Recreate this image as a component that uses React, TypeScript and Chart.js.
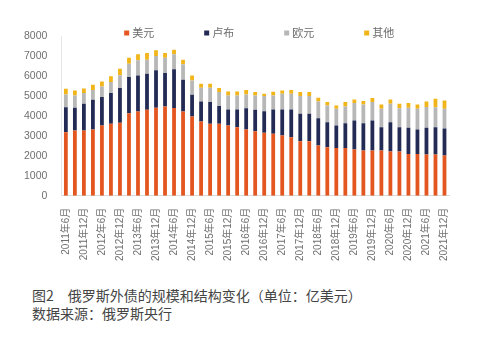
import React, { useEffect, useRef } from "react";
import { Chart, registerables } from "chart.js";

Chart.register(...registerables);

const categories = [
  "2011年6月", "2011年9月", "2011年12月",
  "2012年3月", "2012年6月", "2012年9月", "2012年12月",
  "2013年3月", "2013年6月", "2013年9月", "2013年12月",
  "2014年3月", "2014年6月", "2014年9月", "2014年12月",
  "2015年3月", "2015年6月", "2015年9月", "2015年12月",
  "2016年3月", "2016年6月", "2016年9月", "2016年12月",
  "2017年3月", "2017年6月", "2017年9月", "2017年12月",
  "2018年3月", "2018年6月", "2018年9月", "2018年12月",
  "2019年3月", "2019年6月", "2019年9月", "2019年12月",
  "2020年3月", "2020年6月", "2020年9月", "2020年12月",
  "2021年3月", "2021年6月", "2021年9月", "2021年12月",
];

const usd = [
  3180, 3260, 3260, 3310, 3510, 3600, 3650, 4130, 4220, 4300, 4400,
  4470, 4390, 4220, 3970, 3720, 3600, 3600, 3510, 3430, 3310, 3230,
  3150, 3100, 3010, 2930, 2730, 2730, 2510, 2430, 2390, 2390, 2310,
  2260, 2260, 2260, 2210, 2210, 2090, 2090, 2060, 2060, 2010,
];
const rub = [
  1250, 1140, 1340, 1490, 1430, 1540, 1750, 1810, 1800, 1810, 1880,
  1670, 1940, 1590, 1080, 1000, 1090, 890, 810, 890, 1070, 1070,
  1080, 1220, 1310, 1390, 1370, 1370, 1370, 1250, 1120, 1240, 1460,
  1370, 1510, 1170, 1470, 1220, 1310, 1220, 1340, 1370, 1350,
];
const eur = [
  640, 620, 540, 500, 530, 550, 630, 670, 760, 700, 720,
  770, 750, 770, 720, 690, 720, 700, 700, 700, 690, 720,
  760, 700, 780, 780, 890, 890, 840, 840, 840, 840, 870,
  940, 920, 920, 920, 950, 1000, 1040, 1040, 1000, 990,
];
const other = [
  290, 250, 230, 260, 250, 290, 330, 300, 300, 340, 280,
  240, 230, 230, 250, 200, 200, 200, 200, 200, 230, 170,
  110, 180, 170, 200, 200, 200, 180, 170, 170, 220, 180,
  170, 200, 220, 220, 220, 240, 220, 280, 420, 420,
];

const seriesNames = ["美元", "卢布", "欧元", "其他"];
const seriesColors = ["#E4561F", "#232B55", "#B7B7B7", "#F2B519"];
const yTicks = [0, 1000, 2000, 3000, 4000, 5000, 6000, 7000, 8000];

const legendPlugin = {
  id: "customLegend",
  afterDraw(chart: any) {
    const { ctx, chartArea } = chart;
    const spacing = 80;
    const count = chart.data.datasets.length;
    const center = (chartArea.left + chartArea.right) / 2 + 6;
    const startX = center - (spacing * (count - 1)) / 2 - 17;
    const y = chartArea.top - 3;
    ctx.save();
    ctx.font = "11px 'Noto Sans CJK SC', sans-serif";
    ctx.textBaseline = "middle";
    chart.data.datasets.forEach((ds: any, i: number) => {
      const x = startX + i * spacing;
      ctx.fillStyle = ds.backgroundColor;
      ctx.fillRect(x, y - 2.5, 5, 5);
      ctx.fillStyle = "#6b6b6b";
      ctx.textAlign = "left";
      ctx.fillText(ds.label, x + 8, y);
    });
    ctx.restore();
  },
};

export default function App() {
  const ref = useRef<HTMLCanvasElement | null>(null);

  useEffect(() => {
    if (!ref.current) return;
    const data = [usd, rub, eur, other];
    const chart = new Chart(ref.current, {
      type: "bar",
      data: {
        labels: categories,
        datasets: seriesNames.map((name, i) => ({
          label: name,
          data: data[i],
          backgroundColor: seriesColors[i],
          borderWidth: 0,
          barPercentage: 0.7,
          categoryPercentage: 0.6,
        })),
      },
      options: {
        animation: false,
        responsive: false,
        maintainAspectRatio: false,
        layout: { padding: { left: 18, right: 45, top: 36, bottom: 4 } },
        plugins: {
          legend: { display: false },
          tooltip: { enabled: false },
        },
        scales: {
          x: {
            stacked: true,
            grid: { display: false },
            border: { display: true, color: "#D9D9D9" },
            ticks: {
              autoSkip: false,
              minRotation: 90,
              maxRotation: 90,
              padding: 4,
              color: "#707070",
              font: { size: 10, family: "'Liberation Sans', 'Noto Sans CJK SC', sans-serif" },
              callback: (_v: any, idx: number) => (idx % 2 === 0 ? categories[idx] : ""),
            },
          },
          y: {
            stacked: true,
            min: 0,
            max: 8000,
            afterBuildTicks: (axis: any) => {
              axis.ticks = yTicks.map((v) => ({ value: v }));
            },
            grid: { display: false },
            border: { display: true, color: "#E6E6E6" },
            ticks: {
              padding: 6,
              color: "#707070",
              font: { size: 10.5, family: "'Liberation Sans', sans-serif" },
              callback: (v: any) => String(v),
            },
          },
        },
      },
      plugins: [legendPlugin],
    });
    return () => chart.destroy();
  }, []);

  return (
    <div style={{ position: "absolute", left: 0, top: 0, width: 494, height: 338, background: "#fff" }}>
      <canvas ref={ref} width={494} height={269} style={{ position: "absolute", left: 0, top: 0 }} />
      <div
        style={{
          position: "absolute",
          left: 32,
          top: 286,
          fontSize: 14,
          lineHeight: "18px",
          color: "#444",
          fontFamily: "'Noto Sans CJK SC', serif",
          whiteSpace: "nowrap",
        }}
      >
        <div>图2　俄罗斯外债的规模和结构变化（单位：亿美元）</div>
        <div>数据来源：俄罗斯央行</div>
      </div>
    </div>
  );
}
